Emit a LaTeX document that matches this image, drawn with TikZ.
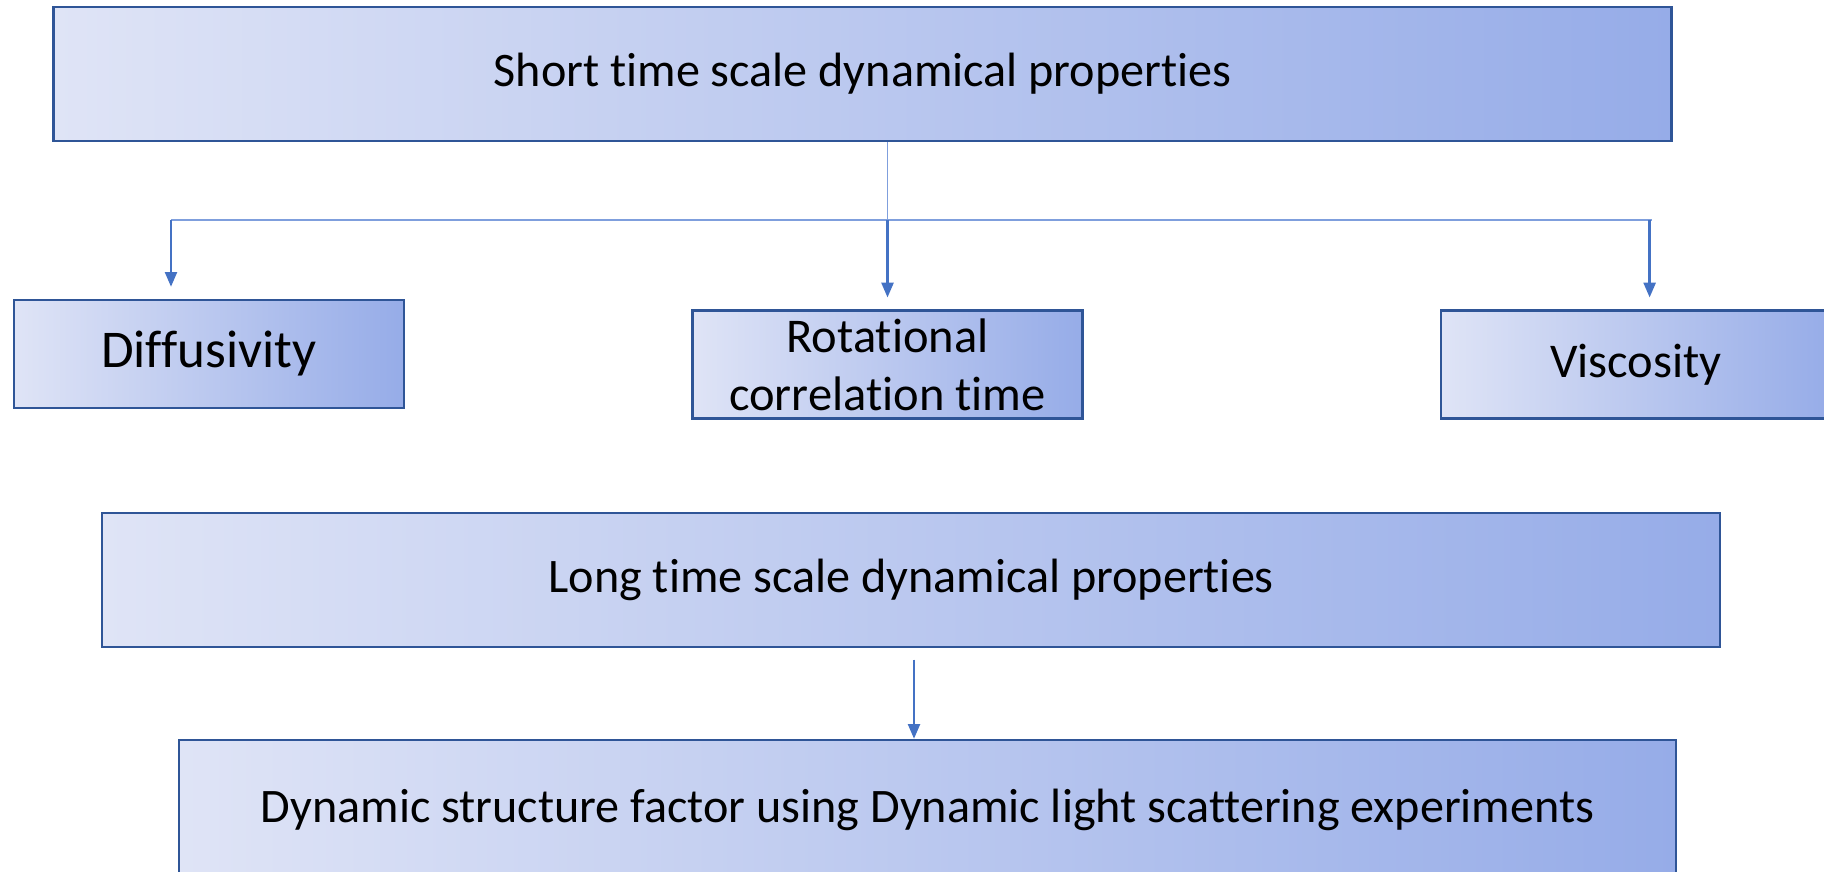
\documentclass[tikz,border=0pt]{standalone}
\usepackage{fontspec}
\setmainfont[Ligatures=NoCommon]{Carlito}
\usetikzlibrary{arrows.meta}

\definecolor{boxedge}{HTML}{2F5597}
\definecolor{boxlight}{HTML}{DFE4F6}
\definecolor{boxdark}{HTML}{96ACE8}
\definecolor{linkthin}{HTML}{7F9FDD}
\definecolor{linkblue}{HTML}{4472C4}

\tikzset{
    propbox/.style={draw=boxedge, line width=0.7pt, left color=boxlight, right color=boxdark,
                    inner sep=0pt, align=center, text=black},
    widebox/.style={propbox, minimum width=161.8mm, minimum height=13.4mm, font=\fontsize{13.7}{16}\selectfont},
    smallbox/.style={propbox, minimum width=39mm, minimum height=10.8mm, font=\fontsize{13.8}{16.4}\selectfont},
    thinlink/.style={draw=linkthin, line width=0.55pt},
    arrowlink/.style={draw=linkblue, line width=0.7pt, -{Triangle[width=3.4pt,length=4.2pt]}, shorten >=1.2mm}
}

\begin{document}
\begin{tikzpicture}[x=0.1mm, y=-0.1mm]
            \def \xdiff {208.8}
            \def \xrot  {887.5}
            \def \xvisc {1636}
            \def \xleftarrow  {171}
            \def \xrightarrow {1649.6}
            \def \xrightend   {1652}

            \def \ytop    {74}
            \def \ybranch {220}
            \def \ysmall  {364.7}
            \def \ylong   {580}
            \def \ydsf    {810}

            \useasboundingbox (0,0) rectangle (1824,871);
% short time scale
            \node [widebox] (short) at (862.6, \ytop) {Short time scale dynamical properties};
% short time properties
            \node [smallbox, font=\fontsize{15.1}{17}\selectfont] (diff) at (\xdiff, 354) {Diffusivity};
            \node [smallbox] (rot) at (\xrot, \ysmall) {Rotational\\correlation time};
            \node [smallbox] (visc) at (\xvisc, \ysmall) {Viscosity};
% long time scale
            \node [widebox] (long) at (911.2, \ylong) {Long time scale dynamical properties};
            \node [widebox, minimum width=149.7mm, minimum height=14mm] (dsf) at (927.5, \ydsf) {Dynamic structure factor using Dynamic light scattering experiments};
% branch
            \coordinate (bl) at (\xleftarrow, \ybranch);
            \coordinate (bm) at (\xrot, \ybranch);
            \coordinate (br) at (\xrightarrow, \ybranch);
            \coordinate (be) at (\xrightend, \ybranch);
            \coordinate (lo) at (914, 659.6);
            \draw [thinlink] (short.south -| bm) -- (bm);
            \draw [thinlink] (bl) -- (be);
% arrows
            \draw [arrowlink] (bl) -- (bl |- diff.north);
            \draw [arrowlink] (bm) -- (rot.north);
            \draw [arrowlink] (br) -- (br |- visc.north);
            \draw [arrowlink, shorten >=0pt] (lo) -- (lo |- dsf.north);

\end{tikzpicture}
\end{document}
